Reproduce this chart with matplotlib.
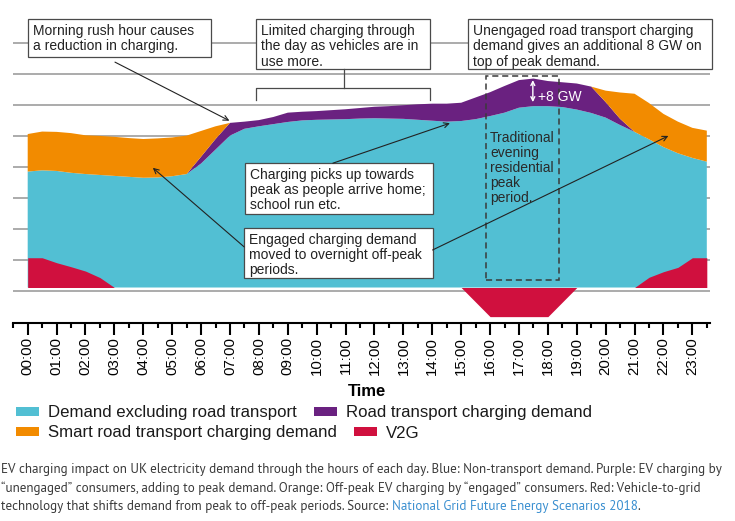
import numpy as np
import matplotlib
matplotlib.use("Agg")
import matplotlib.pyplot as plt
from matplotlib.patches import Rectangle
from matplotlib import font_manager as fm

# ---------------- data (GW, half-hourly) ----------------
hours = np.arange(48) * 0.5
tick_hours = list(range(24))
tick_labels = [f"{h:02d}:00" for h in range(24)]

demand_ex_transport = [37.4, 37.8, 37.6, 37.0, 36.6, 36.3, 36.0, 35.7, 35.4, 35.5,
                       35.9, 36.6, 40.0, 44.5, 49.0, 51.2, 52.0, 52.7, 53.4, 53.9,
                       54.1, 54.2, 54.3, 54.5, 54.6, 54.5, 54.4, 54.1, 53.8, 53.5,
                       53.7, 54.3, 55.3, 56.4, 58.0, 58.5, 58.5, 58.2, 57.4, 56.3,
                       54.8, 52.4, 50.2, 47.8, 45.3, 43.3, 41.8, 40.6]
road_transport_charging = [0, 0, 0, 0, 0, 0, 0, 0, 0, 0,
                           0, 0, 2.2, 3.4, 4.1, 2.3, 2.0, 2.3, 3.0, 2.8,
                           2.8, 3.0, 3.2, 3.4, 3.7, 4.0, 4.4, 5.0, 5.5, 5.8,
                           5.9, 7.0, 7.7, 8.6, 8.9, 8.9, 8.1, 8.0, 8.4, 8.5,
                           5.0, 2.0, 0, 0, 0, 0, 0, 0]
smart_charging = [12.1, 12.5, 12.6, 12.8, 12.5, 12.6, 12.6, 12.5, 12.5, 12.6,
                  12.5, 12.4, 8.3, 4.1, 0, 0, 0, 0, 0, 0,
                  0, 0, 0, 0, 0, 0, 0, 0, 0, 0,
                  0, 0, 0, 0, 0, 0, 0, 0, 0, 0,
                  3.7, 8.5, 12.3, 11.7, 10.7, 10.2, 9.7, 10.0]
v2g = [9.6, 9.6, 8.0, 6.7, 5.3, 3.2, 0, 0, 0, 0,
       0, 0, 0, 0, 0, 0, 0, 0, 0, 0,
       0, 0, 0, 0, 0, 0, 0, 0, 0, 0,
       0, -4.7, -9.4, -9.4, -9.4, -9.4, -9.4, -4.7, 0, 0,
       0, 0, 0, 3.3, 5.1, 6.5, 9.6, 9.6]

series_labels = ["Demand excluding road transport", "Road transport charging demand",
                 "Smart road transport charging demand", "V2G"]
BLUE, PURPLE, ORANGE, RED = "#52bfd3", "#6a2180", "#f28b00", "#d0103e"

# ---------------- figure ----------------
W, H, DPI = 735, 521, 100
fig = plt.figure(figsize=(W / DPI, H / DPI), dpi=DPI)
fig.patch.set_facecolor("white")
SANS = "Liberation Sans"

ax = fig.add_axes([13.25 / W, 1 - 323 / H, (709.7 - 13.25) / W, (323 - 15) / H])
ax.set_xlim(-0.5, 23.6)
ax.set_ylim(-11.45, 87.9)
ax.patch.set_alpha(0)

for s in ("left", "right", "top"):
    ax.spines[s].set_visible(False)
ax.spines["bottom"].set_linewidth(1.5)
ax.set_yticks([])
ax.set_xticks(tick_hours)
ax.set_xticklabels(tick_labels, rotation=90, fontsize=10.8, family=SANS)
ax.set_xticks(np.arange(-0.5, 23.6, 0.5), minor=True)
ax.tick_params(axis="x", which="major", length=8.6, width=1.5, pad=1.5)
ax.tick_params(axis="x", which="minor", length=3.6, width=1.5)

# gridlines
for lvl in np.arange(9) * 10 - 1.25:
    ax.axhline(lvl, color="#a5a5a5", lw=1.3, zorder=0.5)

# stacked areas
ax.stackplot(hours, demand_ex_transport, road_transport_charging, smart_charging,
             colors=[BLUE, PURPLE, ORANGE], lw=0, zorder=1)
ax.fill_between(hours, 0, v2g, color=RED, lw=0, zorder=2)

# dashed peak-period box
ax.add_patch(Rectangle((15.85, 2.4), 18.39 - 15.85, 68.2 - 2.4, fill=False,
                       ls=(0, (4, 2.5)), lw=1.1, ec="#3a3a3a", zorder=3))
ax.text(16.0, 50.5, "Traditional\nevening\nresidential\npeak\nperiod.", ha="left",
        va="top", fontsize=10, family=SANS, color="#2a2a2a", linespacing=1.1, zorder=3)

# +8 GW marker
ax.annotate("", xy=(17.48, 66.9), xytext=(17.48, 59.8),
            arrowprops=dict(arrowstyle="<->", color="white", lw=1.0, shrinkA=0,
                            shrinkB=0, mutation_scale=7), zorder=3)
ax.text(17.66, 61.5, "+8 GW", ha="left", va="center", fontsize=10, family=SANS,
        color="white", zorder=3)

# annotation boxes
boxes = [
    ((0.01, 6.33, 86.5, 74.3), "Morning rush hour causes\na reduction in charging."),
    ((7.90, 13.92, 86.5, 70.4), "Limited charging through\nthe day as vehicles are in\nuse more."),
    ((15.25, 23.67, 86.5, 70.4), "Unengaged road transport charging\ndemand gives an additional 8 GW on\ntop of peak demand."),
    ((7.52, 14.01, 40.1, 23.6), "Charging picks up towards\npeak as people arrive home;\nschool run etc."),
    ((7.49, 14.01, 19.1, 3.2), "Engaged charging demand\nmoved to overnight off-peak\nperiods."),
]
for (x0, x1, yt, yb), txt in boxes:
    ax.add_patch(Rectangle((x0, yb), x1 - x0, yt - yb, fc="white", ec="#4a4a4a",
                           lw=0.9, zorder=4, clip_on=False))
    ax.text(x0 + 0.16, yt - 1.6, txt, ha="left", va="top", fontsize=10, family=SANS,
            color="#222222", linespacing=1.1, zorder=5, clip_on=False)

# bracket under box 2
ax.plot([10.96, 10.96], [70.4, 64.4], color="#4a4a4a", lw=0.9, zorder=5, clip_on=False)
ax.plot([7.90, 7.90, 13.92, 13.92], [60.6, 64.4, 64.4, 60.6], color="#4a4a4a",
        lw=0.9, zorder=5, clip_on=False)

# arrows
arrows = [((3.02, 72.7), (6.98, 53.8)),
          ((10.56, 40.1), (14.61, 53.0)),
          ((7.49, 13.1), (4.33, 38.6)),
          ((14.01, 12.1), (22.17, 48.9))]
for start, tip in arrows:
    ax.annotate("", xy=tip, xytext=start,
                arrowprops=dict(arrowstyle="->", color="#222222", lw=0.8, shrinkA=0,
                                shrinkB=0, mutation_scale=9), zorder=5)

# axis title
fig.text(367 / W, 1 - 392 / H, "Time", ha="center", va="center", fontsize=12,
         fontweight="bold", family=SANS)

# ---------------- legend (flowing, two rows) ----------------
renderer = fig.canvas.get_renderer()


def fpx(px, py):
    return px / W, 1 - py / H


legend_rows = [[(BLUE, series_labels[0]), (PURPLE, series_labels[1])],
               [(ORANGE, series_labels[2]), (RED, series_labels[3])]]
for cy, row in zip((411, 431.5), legend_rows):
    x = 16
    for col, lab in row:
        fx, fy = fpx(x, cy + 4.5)
        fig.add_artist(Rectangle((fx, fy), 23 / W, 9 / H, transform=fig.transFigure,
                                 fc=col, ec="none"))
        t = fig.text(*fpx(x + 32, cy), lab, ha="left", va="center_baseline",
                     fontsize=12.1, family=SANS, color="#1a1a1a")
        bb = t.get_window_extent(renderer)
        x = bb.x1 + 17

# ---------------- caption ----------------
available = {f.name for f in fm.fontManager.ttflist}
cap_font = next((f for f in ("PT Sans", "Fira Sans Condensed", "Asap Condensed",
                             "Archivo Narrow", "Lato") if f in available), "DejaVu Sans")
cap_lines = ["EV charging impact on UK electricity demand through the hours of each day. "
             "Blue: Non-transport demand. Purple: EV charging by",
             "\u201cunengaged\u201d consumers, adding to peak demand. Orange: Off-peak EV "
             "charging by \u201cengaged\u201d consumers. Red: Vehicle-to-grid",
             "technology that shifts demand from peak to off-peak periods. Source: "]
probe = fig.text(0, 0, cap_lines[0], fontsize=10, family=cap_font)
wid = probe.get_window_extent(renderer).width
probe.remove()
cap_size = 10 * 727 / wid
CAP_COL = "#3a3a3a"
for i, (line, cy) in enumerate(zip(cap_lines, (470, 488.3, 506.7))):
    t = fig.text(*fpx(1, cy), line, ha="left", va="center", fontsize=cap_size,
                 family=cap_font, color=CAP_COL)
    if i == 2:
        bb = t.get_window_extent(renderer)
        t2 = fig.text(bb.x1 / W, 1 - cy / H, "National Grid Future Energy Scenarios 2018",
                      ha="left", va="center", fontsize=cap_size, family=cap_font,
                      color="#3a8fd0")
        bb2 = t2.get_window_extent(renderer)
        fig.text(bb2.x1 / W, 1 - cy / H, ".", ha="left", va="center",
                 fontsize=cap_size, family=cap_font, color=CAP_COL)

fig.savefig("out.png", dpi=DPI, facecolor="white")
